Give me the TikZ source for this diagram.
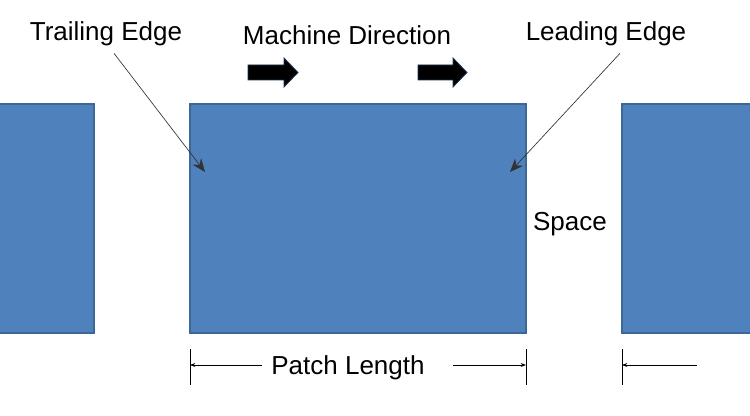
\documentclass[tikz,border=0pt]{standalone}
\usepackage{fontspec}
\setmainfont{Liberation Sans}
\usetikzlibrary{arrows.meta,calc,fit}
\definecolor{patchblue}{HTML}{4F81BD}
\definecolor{patchline}{HTML}{3C6898}
\definecolor{arrowrim}{HTML}{1F3552}
\begin{document}
\begin{tikzpicture}[x=0.75pt, y=-0.75pt,
  patch/.style={draw=patchline, fill=patchblue, line width=1.1pt, inner sep=0pt},
  lbl/.style={font=\fontsize{19.5}{23}\selectfont, inner sep=2pt, anchor=base},
  leader/.style={draw=black!80, line width=0.5pt, -{Stealth[length=10pt, width=8pt]}},
  dimline/.style={line width=0.6pt, -{Stealth[length=4pt, width=3pt]}},
  tickline/.style={line width=0.6pt}]
  \useasboundingbox (0,0) rectangle (750,416);

  % Patches
  \node[patch, fit={(-10,104) (94,333)}] (prev) {};
  \node[patch, fit={(190,104) (526,333)}] (cur) {};
  \node[patch, fit={(622,104) (760,333)}] (next) {};

  % Labels
  \node[lbl] (trail) at (106,41) {Trailing Edge};
  \node[lbl] (md) at (347,45) {Machine Direction};
  \node[lbl] (lead) at (606,41) {Leading Edge};
  \node[lbl] (gap) at (570,231) {Space};
  \node[lbl] (plen) at (348,375) {Patch Length};

  % Machine direction arrows
  \filldraw[fill=black, draw=arrowrim, line width=0.6pt]
    (248,65) -- (284,65) -- (284,58) -- (298,72.5) -- (284,87) -- (284,80) -- (248,80) -- cycle;
  \filldraw[fill=black, draw=arrowrim, line width=0.6pt]
    (418,65) -- (453,65) -- (453,58) -- (467,72.5) -- (453,87) -- (453,80) -- (418,80) -- cycle;

  % Edge pointers
  \coordinate (trailtip) at (205,172);
  \coordinate (leadtip) at (510,172);
  \draw[leader] ($(trail.south)+(8,4)$) -- (trailtip);
  \draw[leader] ($(lead.south)+(14,4)$) -- (leadtip);

  % Length marks
  \coordinate (curL) at (190,365);
  \coordinate (curR) at (526,365);
  \coordinate (nextL) at (622,365);
  \draw[tickline] (190,349) -- (190,385);
  \draw[tickline] (526,349) -- (526,385);
  \draw[tickline] (622,349) -- (622,385);
  \draw[dimline] (262,365) -- (curL);
  \draw[dimline] (453,365) -- (curR);
  \draw[dimline] (697,365) -- (nextL);
\end{tikzpicture}
\end{document}
